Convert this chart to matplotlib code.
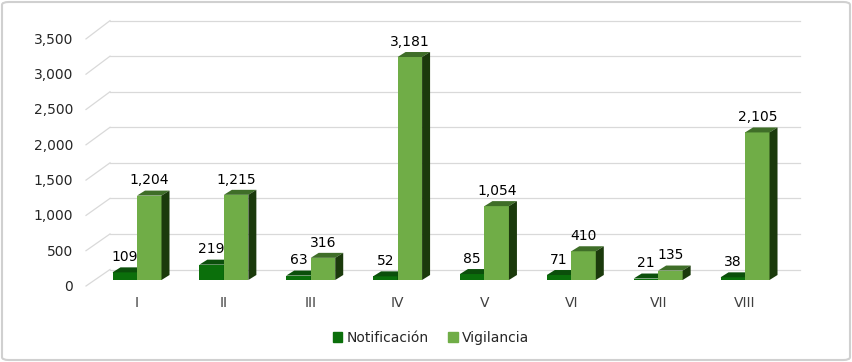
import matplotlib.pyplot as plt
from matplotlib.patches import Polygon, Patch, FancyBboxPatch

categories = ['I', 'II', 'III', 'IV', 'V', 'VI', 'VII', 'VIII']
notificacion = [109, 219, 63, 52, 85, 71, 21, 38]
vigilancia = [1204, 1215, 316, 3181, 1054, 410, 135, 2105]
yticks = [0, 500, 1000, 1500, 2000, 2500, 3000, 3500]

W, H = 852, 362
fig = plt.figure(figsize=(W / 100, H / 100), dpi=100)

# axes placed in pixel terms (top-left origin)
ax_l, ax_r, ax_t, ax_b = 80, 815, 10, 295
ax = fig.add_axes([ax_l / W, 1 - ax_b / H, (ax_r - ax_l) / W, (ax_b - ax_t) / H])

# scales: category spacing and value->pixel (bar front plane)
cat_px = 86.86
val_px = 0.0701
x0_px, y0_px = 137, 280
ax.set_xlim((ax_l - x0_px) / cat_px, (ax_r - x0_px) / cat_px)
ax.set_ylim(-(ax_b - y0_px) / val_px, (y0_px - ax_t) / val_px)
ax.axis('off')


def dx(px):
    return (px - x0_px) / cat_px


def dy(px):
    return (y0_px - px) / val_px


depth_x, depth_y = 8 / cat_px, 5 / val_px
bw = 24.5 / cat_px

# back wall gridlines + left diagonal ticks
for v in yticks:
    back = 269.5 - v * 0.0711
    front = 286 - v * 0.0706
    ax.plot([dx(110), dx(800)], [dy(back)] * 2, color='#d9d9d9', lw=0.9, zorder=0)
    ax.plot([dx(86), dx(110)], [dy(front), dy(back)], color='#d9d9d9', lw=0.9, zorder=0)
    ax.text(dx(73), dy(front + 1), f'{v:,}', ha='right', va='center',
            fontsize=10, color='#262626')

series = [
    (notificacion, -bw, ('#0b6f0b', '#0b4f0b', '#063a06')),
    (vigilancia, 0, ('#70ad47', '#3f6e28', '#1b3a0c')),
]

z = 2
for i, cat in enumerate(categories):
    for vals, off, (front, top, side) in series:
        v = vals[i]
        x = i + off
        ax.bar(x, v, width=bw, align='edge', color=front, zorder=z)
        ax.add_patch(Polygon([(x, v), (x + bw, v), (x + bw + depth_x, v + depth_y),
                              (x + depth_x, v + depth_y)], closed=True,
                             facecolor=top, edgecolor='none', zorder=z))
        ax.add_patch(Polygon([(x + bw, 0), (x + bw + depth_x, depth_y),
                              (x + bw + depth_x, v + depth_y), (x + bw, v)], closed=True,
                             facecolor=side, edgecolor='none', zorder=z))
        ax.annotate(f'{v:,}', (x + bw / 2, v), xytext=(0, 11), textcoords='offset points',
                    ha='center', va='center', fontsize=10, color='#000000', zorder=10)
        z += 1
    ax.text(i, dy(303), cat, ha='center', va='center', fontsize=10, color='#404040')

handles = [Patch(color='#0b6f0b', label='Notificación'),
           Patch(color='#70ad47', label='Vigilancia')]
fig.legend(handles=handles, loc='center', bbox_to_anchor=(431 / W, 1 - 338 / H), ncol=2,
           frameon=False, fontsize=10, handlelength=0.7, handleheight=0.7,
           handletextpad=0.3, columnspacing=1.4, labelcolor='#262626')

fig.patches.append(FancyBboxPatch((2 / W, 2 / H), (W - 4) / W, (H - 4) / H,
                                  boxstyle='round,pad=0,rounding_size=0.008',
                                  transform=fig.transFigure, facecolor='none',
                                  edgecolor='#d0d0d0', lw=1.5))

fig.savefig('out.png', dpi=100)
